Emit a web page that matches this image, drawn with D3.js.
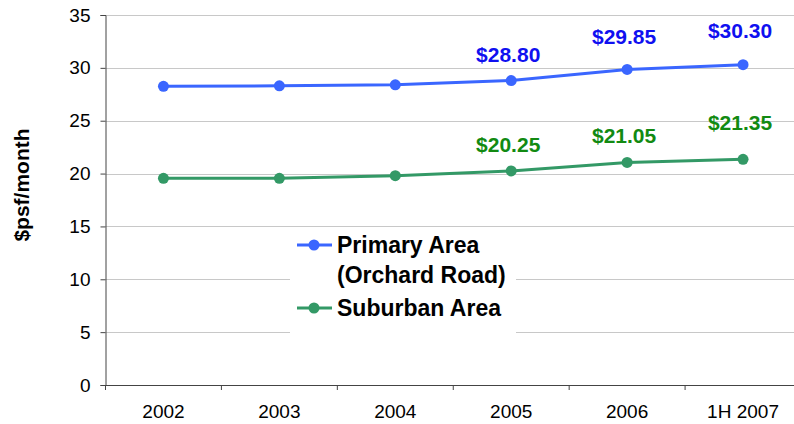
<!DOCTYPE html>
<html><head><meta charset="utf-8">
<script src="https://cdn.jsdelivr.net/npm/d3@7"></script>
<style>
html,body{margin:0;padding:0;background:#fff;}
svg{display:block;font-family:Arial,"Liberation Sans",sans-serif;}
</style></head>
<body>
<svg id="chart" width="794" height="424"></svg>
<script>
// ---- data ----
const categories = ["2002","2003","2004","2005","2006","1H 2007"];
const primaryValues = [28.25, 28.3, 28.4, 28.8, 29.85, 30.3];
const suburbanValues = [19.55, 19.55, 19.8, 20.25, 21.05, 21.35];
const primaryLabels = [null, null, null, "$28.80", "$29.85", "$30.30"];
const suburbanLabels = [null, null, null, "$20.25", "$21.05", "$21.35"];
const yTicks = [0,5,10,15,20,25,30,35];
const seriesNames = ["Primary Area", "(Orchard Road)", "Suburban Area"];
const yTitle = "$psf/month";

// ---- layout ----
const svg = d3.select("#chart");
const mLeft = 105.5, mRight = 801, mTop = 15, mBottom = 385;
const x = d3.scaleBand().domain(categories).range([mLeft, mRight]).padding(0);
const y = d3.scaleLinear().domain([0,35]).range([mBottom, mTop]);
const blueLine = "#3a66ff", greenLine = "#339966";
const blueText = "#1010f0", greenText = "#128a12";
const primaryDy = [0,0,0,-19,-25,-27];
const suburbanDy = [0,0,0,-19,-19,-29];
const FONT = "Arial, 'Liberation Sans', sans-serif";

// gridlines
svg.append("g").selectAll("line").data(yTicks.filter(t => t > 0)).join("line")
  .attr("x1", mLeft).attr("x2", 794)
  .attr("y1", d => Math.round(y(d)) + 0.5).attr("y2", d => Math.round(y(d)) + 0.5)
  .attr("stroke", "#c8c8c8").attr("stroke-width", 1);

// y axis
const yAxis = d3.axisLeft(y).tickValues(yTicks).tickSize(5).tickPadding(10);
const gy = svg.append("g").attr("transform", `translate(${mLeft},0)`).call(yAxis);
gy.select(".domain").attr("stroke", "#444");
gy.selectAll(".tick line").attr("stroke", "#444");
gy.selectAll(".tick text").attr("font-size", 19).attr("fill", "#000")
  .attr("font-family", FONT);

// x axis
const xAxis = d3.axisBottom(x).tickSize(0).tickPadding(0);
const gx = svg.append("g").attr("transform", `translate(0,${mBottom})`).call(xAxis);
gx.select(".domain").attr("stroke", "#444").attr("d", `M${mLeft},0.5H${mRight}`);
gx.selectAll(".tick text").attr("font-size", 19).attr("fill", "#000")
  .attr("dy", null).attr("y", 33)
  .attr("font-family", FONT);
// category boundary ticks
svg.append("g").selectAll("line").data(categories).join("line")
  .attr("x1", d => x(d)).attr("x2", d => x(d))
  .attr("y1", mBottom).attr("y2", mBottom + 5)
  .attr("stroke", "#444");

// legend box (covers gridlines)
const lg = svg.append("g");
lg.append("rect").attr("x", 290).attr("y", 229).attr("width", 226).attr("height", 106).attr("fill", "#fff");

// lines
const cx = d => x(d) + x.bandwidth()/2;
const line = d3.line().x((d,i) => cx(categories[i])).y(d => y(d));
function drawSeries(vals, color, labels, dys, tcolor){
  svg.append("path").datum(vals).attr("d", line).attr("fill","none")
    .attr("stroke", color).attr("stroke-width", 3);
  svg.append("g").selectAll("circle").data(vals).join("circle")
    .attr("cx", (d,i) => cx(categories[i])).attr("cy", d => y(d)).attr("r", 5.5)
    .attr("fill", color);
  const pts = vals.map((v,i) => ({v, i, label: labels[i], dy: dys[i]})).filter(p => p.label !== null);
  svg.append("g").selectAll("text").data(pts).join("text")
    .attr("x", p => cx(categories[p.i]) - 3)
    .attr("y", p => y(p.v) + p.dy)
    .attr("text-anchor", "middle").attr("font-size", 21).attr("font-weight", "bold")
    .attr("fill", tcolor)
    .text(p => p.label);
}
drawSeries(primaryValues, blueLine, primaryLabels, primaryDy, blueText);
drawSeries(suburbanValues, greenLine, suburbanLabels, suburbanDy, greenText);

// legend entries
const legendItems = [
  {color: blueLine, y: 245, lines: [seriesNames[0], seriesNames[1]]},
  {color: greenLine, y: 308, lines: [seriesNames[2]]}
];
legendItems.forEach(it => {
  lg.append("line").attr("x1", 297).attr("x2", 332).attr("y1", it.y).attr("y2", it.y)
    .attr("stroke", it.color).attr("stroke-width", 3);
  lg.append("circle").attr("cx", 314).attr("cy", it.y).attr("r", 5.5).attr("fill", it.color);
  it.lines.forEach((t, k) => {
    lg.append("text").attr("x", 337).attr("y", it.y + 8 + k*30)
      .attr("font-size", 23).attr("font-weight", "bold").attr("fill", "#000").text(t);
  });
});

// y title
svg.append("text").attr("transform", "translate(29,185) rotate(-90)")
  .attr("text-anchor", "middle").attr("font-size", 21).attr("font-weight", "bold")
  .attr("fill", "#000").text(yTitle);
</script>
</body></html>
